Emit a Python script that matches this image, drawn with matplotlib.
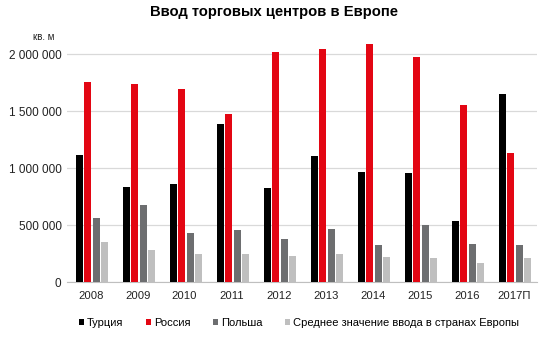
import matplotlib.pyplot as plt
import numpy as np
from matplotlib.ticker import FuncFormatter

plt.rcParams['font.family'] = ['Liberation Sans', 'DejaVu Sans']

years = ['2008', '2009', '2010', '2011', '2012', '2013', '2014', '2015', '2016', '2017П']
turkey = [1114000, 836000, 862000, 1389000, 827000, 1111000, 968000, 959000, 538000, 1655000]
russia = [1754000, 1740000, 1693000, 1479000, 2018000, 2044000, 2088000, 1974000, 1553000, 1134000]
poland = [567000, 678000, 435000, 459000, 380000, 467000, 330000, 503000, 336000, 327000]
europe_avg = [354000, 286000, 251000, 251000, 231000, 245000, 222000, 210000, 172000, 213000]

series = [
    ('Турция', turkey, '#000000'),
    ('Россия', russia, '#e30613'),
    ('Польша', poland, '#6d6e70'),
    ('Среднее значение ввода в странах Европы', europe_avg, '#bfbfbf'),
]

fig = plt.figure(figsize=(5.59, 3.56), dpi=100)
ax = fig.add_axes([0.12, 0.207, 0.841, 0.705])

x = np.arange(len(years))
width = 0.15
step = 0.177
for i, (name, vals, color) in enumerate(series):
    ax.bar(x + (i - 1.5) * step + 0.03, vals, width, color=color, label=name, zorder=3)

ax.set_xlim(-0.5, len(years) - 0.5)
ax.set_ylim(0, 2200000)
ax.set_yticks(np.arange(0, 2000001, 500000))
ax.yaxis.set_major_formatter(FuncFormatter(lambda v, p: f'{int(v):,}'.replace(',', ' ')))
ax.set_xticks(x)
ax.set_xticklabels(years)
ax.tick_params(length=0, labelsize=8.5, colors='#222222')
ax.tick_params(axis='x', pad=6, labelsize=8.1)
ax.tick_params(axis='y', pad=4)
ax.grid(axis='y', color='#d9d9d9', linewidth=0.9, zorder=0)
for s in ['top', 'right', 'left']:
    ax.spines[s].set_visible(False)
ax.spines['bottom'].set_color('#bfbfbf')

fig.text(0.49, 0.965, 'Ввод торговых центров в Европе', ha='center', va='center',
         fontsize=10.6, fontweight='bold')
fig.text(0.078, 0.896, 'кв. м', ha='center', va='center', fontsize=7, color='#222222')

fig.legend(loc='center', bbox_to_anchor=(0.535, 0.093), ncol=4, frameon=False,
           fontsize=8, handlelength=0.45, handleheight=0.45, handletextpad=0.3,
           columnspacing=2.0)

fig.savefig('out.png', dpi=100)
